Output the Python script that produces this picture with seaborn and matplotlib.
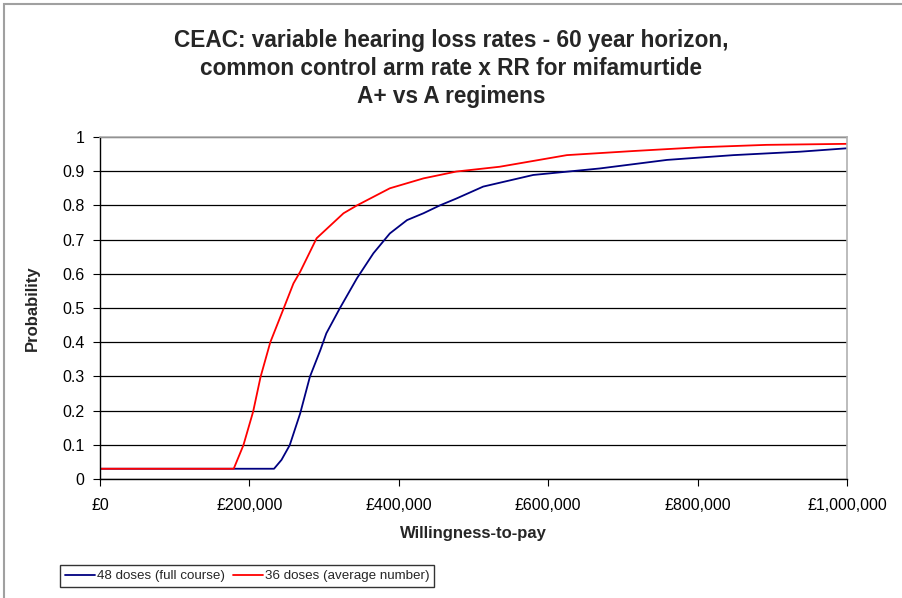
import matplotlib
matplotlib.use("Agg")
import matplotlib.pyplot as plt
import matplotlib.ticker as mticker
from matplotlib.patches import Rectangle
import numpy as np
import pandas as pd
import seaborn as sns

# ---- data ----
wtp_48 = [0, 179000, 233000, 243000, 254000, 268000, 281000, 295000, 303000, 321000,
          344000, 366000, 388000, 411000, 433000, 455000, 477000, 513000, 580000,
          669000, 759000, 848000, 937000, 1000000]
prob_48 = [0.03, 0.03, 0.03, 0.056, 0.099, 0.192, 0.299, 0.377, 0.426, 0.499,
           0.587, 0.66, 0.718, 0.757, 0.777, 0.80, 0.82, 0.855, 0.889,
           0.908, 0.933, 0.947, 0.957, 0.967]

wtp_36 = [0, 179000, 192000, 205000, 215000, 228000, 245000, 259000, 268000, 290000,
          326000, 344000, 388000, 433000, 477000, 535000, 625000, 714000, 803000,
          892000, 1000000]
prob_36 = [0.03, 0.03, 0.099, 0.197, 0.299, 0.40, 0.494, 0.572, 0.606, 0.704,
           0.777, 0.80, 0.85, 0.879, 0.899, 0.913, 0.947, 0.959, 0.97,
           0.977, 0.98]

series_names = ["48 doses (full course)", "36 doses (average number)"]
title_text = ("CEAC: variable hearing loss rates - 60 year horizon,\n"
              "common control arm rate x RR for mifamurtide\n"
              "A+ vs A regimens")
x_ticks = [0, 200000, 400000, 600000, 800000, 1000000]
y_ticks = [0, 0.1, 0.2, 0.3, 0.4, 0.5, 0.6, 0.7, 0.8, 0.9, 1.0]

df = pd.concat([
    pd.DataFrame({"wtp": wtp_48, "prob": prob_48, "series": series_names[0]}),
    pd.DataFrame({"wtp": wtp_36, "prob": prob_36, "series": series_names[1]}),
], ignore_index=True)

# ---- styling ----
sns.set_style("white")
plt.rcParams["font.family"] = ["Liberation Sans", "DejaVu Sans"]

fig = plt.figure(figsize=(9.02, 5.98), dpi=100)
ax = fig.add_axes([100 / 902, 1 - 479 / 598, 747 / 902, 342 / 598])

palette = {series_names[0]: "#000080", series_names[1]: "#FF0000"}
sns.lineplot(data=df, x="wtp", y="prob", hue="series", palette=palette,
             linewidth=1.3, ax=ax, sort=False, estimator=None, legend=True)

ax.set_xlim(0, 1000000)
ax.set_ylim(0, 1)
ax.set_xticks(x_ticks)
ax.set_yticks(y_ticks)
ax.xaxis.set_major_formatter(mticker.FuncFormatter(lambda v, p: "£{:,.0f}".format(v)))
ax.yaxis.set_major_formatter(mticker.FuncFormatter(lambda v, p: "{:g}".format(round(v, 1))))
ax.tick_params(axis="both", direction="out", length=5, width=0.8, colors="black",
               labelsize=11.5, left=True, bottom=True)
ax.tick_params(axis="x", pad=9)
ax.tick_params(axis="y", pad=6)

ax.yaxis.grid(True, color="black", linewidth=0.9)
ax.xaxis.grid(False)
ax.set_axisbelow(True)

for s in ["top", "right"]:
    ax.spines[s].set_color("#b0b0b0")
    ax.spines[s].set_linewidth(1.2)
for s in ["left", "bottom"]:
    ax.spines[s].set_color("black")
    ax.spines[s].set_linewidth(1.0)

ax.set_xlabel("Willingness-to-pay", fontsize=12, fontweight="bold", labelpad=9)
ax.set_ylabel("Probability", fontsize=12, fontweight="bold", labelpad=16)

fig.text(0.5, 1 - 68.5 / 598, title_text, ha="center", va="center",
         fontsize=16.3, fontweight="bold", linespacing=1.3)

handles, labels = ax.get_legend_handles_labels()
ax.legend_.remove()
leg = fig.legend(handles, labels, loc="lower left", bbox_to_anchor=(60 / 902, 1 - 587 / 598),
                 borderaxespad=0, ncol=2, frameon=True, fontsize=9.6, handlelength=2.3,
                 handletextpad=0.1, columnspacing=0.6, borderpad=0.35, fancybox=False,
                 edgecolor="black")
leg.get_frame().set_linewidth(1.0)

# outer chart frame
fig.patches.append(Rectangle((4 / 902, -0.05), 1.2, 1 - 4 / 598 + 0.05,
                             transform=fig.transFigure, fill=False,
                             edgecolor="#a0a0a0", linewidth=1.5))

fig.savefig("out.png", dpi=100)
